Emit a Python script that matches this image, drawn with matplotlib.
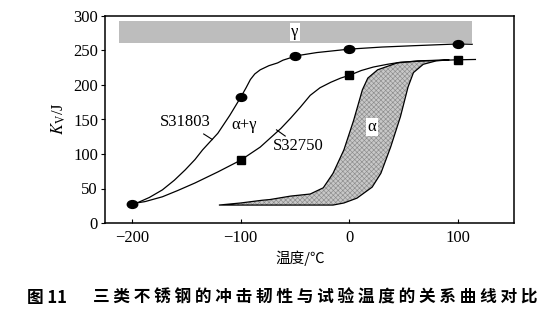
import matplotlib
matplotlib.use("Agg")
import matplotlib.pyplot as plt
from matplotlib.path import Path
from matplotlib.transforms import Affine2D
from matplotlib.patches import Polygon, Rectangle

# ---- data ----
# S31803 (circles): measured points and the drawn curve
s31803_T = [-200, -100, -50, 0, 100]
s31803_K = [28, 182, 242, 252, 260]
s31803_curve_T = [-200, -194, -184, -172, -161, -151, -142, -135, -128, -121, -110, -100,
                  -95, -91, -87, -82, -74, -66, -61, -55, -50, -30, 0, 30, 60, 100, 113]
s31803_curve_K = [28, 30, 37, 48, 62, 77, 92, 106, 118, 130, 156, 182,
                  196, 208, 216, 222, 228, 232, 236, 239, 242, 247, 252, 255, 257, 259.5, 259]

# S32750 (squares); the curve starts from the common point at -200 °C
s32750_T = [-100, 0, 100]
s32750_K = [91, 214, 236]
s32750_curve_T = [-200, -188, -172, -158, -142, -121, -100, -82, -63, -54, -45, -36, -27,
                  -17, -8, 0, 11, 22, 35, 47, 70, 99, 116]
s32750_curve_K = [28, 31, 38, 47, 58, 74, 91, 110, 137, 152, 168, 185, 196,
                  204, 210, 214, 221, 226, 230, 233, 235, 236.5, 237]

# alpha band (hatched) boundary
alpha_T = [-120, -100, -80, -73, -54, -36, -24, -15, -5, 4, 12, 17, 26, 44, 63, 84, 92,
           80, 68, 59, 54, 47, 38, 29, 21, 7, -5, -15, -60, -120]
alpha_K = [26, 29, 33, 34, 39, 42, 51, 72, 106, 149, 193, 210, 222, 232, 235, 236, 236.5,
           235, 230, 218, 197, 154, 110, 72, 52, 36, 29, 26, 26, 26]

# gamma band
gamma_T = [-212, 113]
gamma_K = [261, 293]

x_ticks = [-200, -100, 0, 100]
y_ticks = [0, 50, 100, 150, 200, 250, 300]

caption_num = "图 11"
caption_text = "三 类 不 锈 钢 的 冲 击 韧 性 与 试 验 温 度 的 关 系 曲 线 对 比"

# ---- figure ----
plt.rcParams['mathtext.fontset'] = 'stix'
plt.rcParams['hatch.linewidth'] = 0.45
serif = ['Liberation Serif', 'DejaVu Serif']
cjk = ['Noto Sans CJK SC', 'DejaVu Sans']

fig = plt.figure(figsize=(5.57, 3.23), dpi=100)
ax = fig.add_axes([105/557, 1-223/323, 409/557, 207/323])
ax.set_xlim(-224.8, 151.5)
ax.set_ylim(0, 300)

# gamma band
ax.add_patch(Rectangle((gamma_T[0], gamma_K[0]), gamma_T[1]-gamma_T[0], gamma_K[1]-gamma_K[0],
                       facecolor='#bdbdbd', edgecolor='none', zorder=1))

# alpha hatched band
pts = list(zip(alpha_T, alpha_K))
ax.add_patch(Polygon(pts, closed=True, facecolor='#c8c8c8', edgecolor='#8c8c8c',
                     hatch='xxxxxxx', linewidth=0, zorder=2))
ax.add_patch(Polygon(pts, closed=True, facecolor='none', edgecolor='black',
                     linewidth=0.9, zorder=3))

# curves
ax.plot(s31803_curve_T, s31803_curve_K, color='black', lw=0.9, zorder=4)
ax.plot(s32750_curve_T, s32750_curve_K, color='black', lw=0.9, zorder=4)

ell = Path.unit_circle().transformed(Affine2D().scale(1.0, 0.75))
ax.plot(s31803_T, s31803_K, linestyle='none', marker=ell, markersize=7.5,
        color='black', zorder=5)
ax.plot(s32750_T, s32750_K, linestyle='none', marker='s', markersize=5.8,
        color='black', zorder=5)

# labels inside the plot
ax.text(-50, 277, "γ", family=serif, fontsize=12, ha='center', va='center',
        bbox=dict(facecolor='white', edgecolor='none', pad=1.0), zorder=6)
ax.text(21, 139, "α", family=serif, fontsize=12, ha='center', va='center',
        bbox=dict(facecolor='white', edgecolor='none', pad=1.0), zorder=6)
ax.text(-97, 142, "α+γ", family=serif, fontsize=12, ha='center', va='center', zorder=6)
ax.text(-151, 146, "S31803", family=serif, fontsize=12, ha='center', va='center', zorder=6)
ax.text(-47, 112, "S32750", family=serif, fontsize=12, ha='center', va='center', zorder=6)
ax.plot([-134, -126], [129, 121], color='black', lw=0.8, zorder=4)
ax.plot([-67, -59], [135, 126], color='black', lw=0.8, zorder=4)

# axes styling
for s in ax.spines.values():
    s.set_linewidth(1.1)
ax.set_xticks(x_ticks)
ax.set_yticks(y_ticks)
ax.tick_params(axis='x', direction='in', length=3, width=0.8, pad=5, labelsize=12)
ax.tick_params(axis='y', direction='out', length=3, width=0.8, pad=2, labelsize=12)
for lab in ax.get_xticklabels() + ax.get_yticklabels():
    lab.set_family(serif)

ax.set_ylabel(r"$K_{\mathrm{V}}$/J", family=serif, fontsize=12)
ax.yaxis.set_label_coords(-0.09, 0.507)
ax.set_xlabel("温度/℃", family=cjk, fontsize=10.5)
ax.xaxis.set_label_coords(0.477, -0.135)

# caption
fig.text(27/557, 1-298/323, caption_num, family=cjk, fontsize=12, fontweight='bold',
         ha='left', va='center')
fig.text(93/557, 1-298/323, caption_text, family=cjk, fontsize=12, fontweight='bold',
         ha='left', va='center')

fig.savefig("out.png", dpi=100)
